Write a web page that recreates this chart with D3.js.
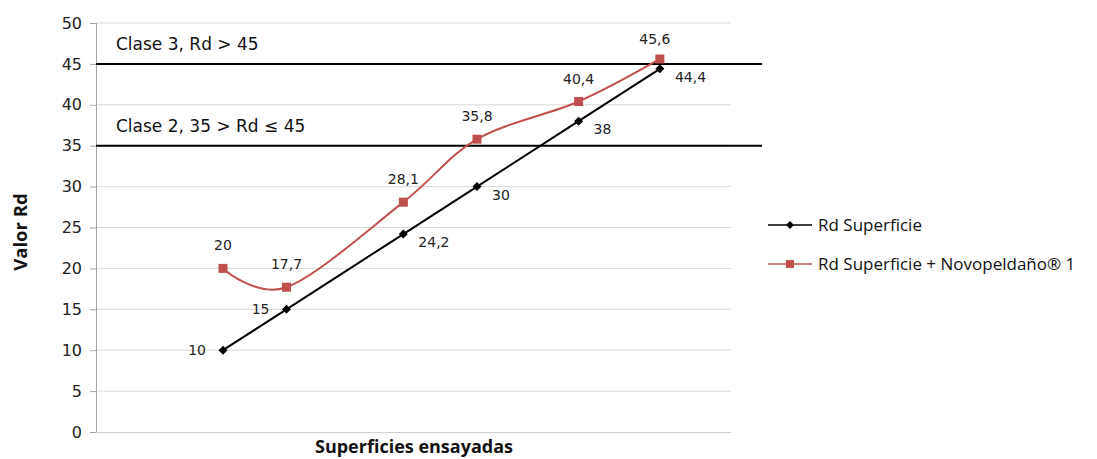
<!DOCTYPE html>
<html><head><meta charset="utf-8">
<script src="https://cdn.jsdelivr.net/npm/d3@7"></script>
<style>body{margin:0;background:#fff}svg{display:block}</style>
</head><body><svg id="c" width="1097" height="459"></svg>
<script>
const xValues = [10, 15, 24.2, 30, 38, 44.4];
const rdSuperficie = [10, 15, 24.2, 30, 38, 44.4];
const rdNovopeldano = [20, 17.7, 28.1, 35.8, 40.4, 45.6];
const yTicks = [0,5,10,15,20,25,30,35,40,45,50];
const thresholds = [{v:45, label:"Clase 3, Rd > 45"},{v:35, label:"Clase 2, 35 > Rd \u2264 45"}];
const seriesNames = ["Rd Superficie", "Rd Superficie + Novopeldaño® 1"];
const blackLabelPos = ["left","left","right","right","right","right"];

const svg = d3.select("#c");
const x = d3.scaleLinear().domain([0,50]).range([96,731]);
const y = d3.scaleLinear().domain([0,50]).range([432,23]);
const fmt = v => String(v).replace(".", ",");

// gridlines
svg.append("g").selectAll("line").data(yTicks.filter(t=>t>0)).join("line")
  .attr("x1",96).attr("x2",731).attr("y1",d=>y(d)).attr("y2",d=>y(d))
  .attr("stroke","#d9d9d9").attr("stroke-width",1);

// y axis
const ya = svg.append("g").attr("transform","translate(96,0)")
  .call(d3.axisLeft(y).tickValues(yTicks).tickSize(6).tickPadding(8));
ya.select(".domain").attr("stroke","#a6a6a6").attr("d","M-6,432.5H0.5V23");
ya.selectAll(".tick line").attr("stroke","#a6a6a6");
ya.selectAll("text").attr("font-family","DejaVu Sans").attr("font-size",16).attr("fill","#222");
svg.append("line").attr("x1",96).attr("x2",731).attr("y1",432.5).attr("y2",432.5).attr("stroke","#d0d0d0");

// threshold lines
svg.append("g").selectAll("line").data(thresholds).join("line")
  .attr("x1",96).attr("x2",762).attr("y1",d=>y(d.v)).attr("y2",d=>y(d.v))
  .attr("stroke","#000").attr("stroke-width",2);
svg.append("g").selectAll("text").data(thresholds).join("text")
  .attr("x",116).attr("y",d=>y(d.v)-14).text(d=>d.label)
  .attr("font-family","DejaVu Sans").attr("font-size",17).attr("fill","#111");

// series lines
const redPts = xValues.map((xv,i)=>[x(xv), y(rdNovopeldano[i])]);
const blkPts = xValues.map((xv,i)=>[x(xv), y(rdSuperficie[i])]);
svg.append("path").attr("d", d3.line().curve(d3.curveCatmullRom.alpha(0))(redPts))
  .attr("fill","none").attr("stroke","#c0504d").attr("stroke-width",2);
svg.append("path").attr("d", d3.line()(blkPts))
  .attr("fill","none").attr("stroke","#000").attr("stroke-width",2);

// markers
svg.append("g").selectAll("rect").data(redPts).join("rect")
  .attr("x",d=>d[0]-4.5).attr("y",d=>d[1]-4.5).attr("width",9).attr("height",9)
  .attr("fill","#c0504d");
const diamond = "M0,-4.5L4.5,0L0,4.5L-4.5,0Z";
svg.append("g").selectAll("path").data(blkPts).join("path")
  .attr("d",diamond).attr("transform",d=>`translate(${d[0]},${d[1]})`).attr("fill","#000");

// data labels
const lblFont = g => g.attr("font-family","DejaVu Sans").attr("font-size",14).attr("fill","#222");
svg.append("g").selectAll("text").data(xValues).join("text")
  .attr("x",(d,i)=>x(d) - (i===5?5:0)).attr("y",(d,i)=>y(rdNovopeldano[i])-(i===5?15:18))
  .attr("text-anchor","middle").text((d,i)=>fmt(rdNovopeldano[i])).call(lblFont);
svg.append("g").selectAll("text").data(xValues).join("text")
  .attr("x",(d,i)=>blackLabelPos[i]==="left"? x(d)-17 : x(d)+15)
  .attr("y",(d,i)=>y(rdSuperficie[i])+ (blackLabelPos[i]==="left"?5:13))
  .attr("text-anchor",(d,i)=>blackLabelPos[i]==="left"?"end":"start")
  .text((d,i)=>fmt(rdSuperficie[i])).call(lblFont);

// axis titles
svg.append("text").attr("x",414).attr("y",453).attr("text-anchor","middle")
  .attr("font-family","Open Sans").attr("font-weight","bold").attr("font-size",18)
  .attr("fill","#111").text("Superficies ensayadas");
svg.append("text").attr("transform","translate(27,232) rotate(-90)").attr("text-anchor","middle")
  .attr("font-family","Open Sans").attr("font-weight","bold").attr("font-size",18.5)
  .attr("fill","#111").text("Valor Rd");

// legend
const lg = svg.append("g");
const legendColors = ["#000","#c0504d"];
seriesNames.forEach((n,i)=>{
  const ly = 225 + i*39;
  lg.append("line").attr("x1",768).attr("x2",812).attr("y1",ly).attr("y2",ly)
    .attr("stroke",legendColors[i]).attr("stroke-width",1.5);
  if(i===0) lg.append("path").attr("d","M0,-4L4,0L0,4L-4,0Z").attr("transform",`translate(790,${ly})`).attr("fill","#000");
  else lg.append("rect").attr("x",786).attr("y",ly-4).attr("width",8).attr("height",8).attr("fill","#c0504d");
  lg.append("text").attr("x",818).attr("y",ly+6).text(n)
    .attr("font-family","Open Sans").attr("font-size",17).attr("fill","#111");
});
</script></body></html>
